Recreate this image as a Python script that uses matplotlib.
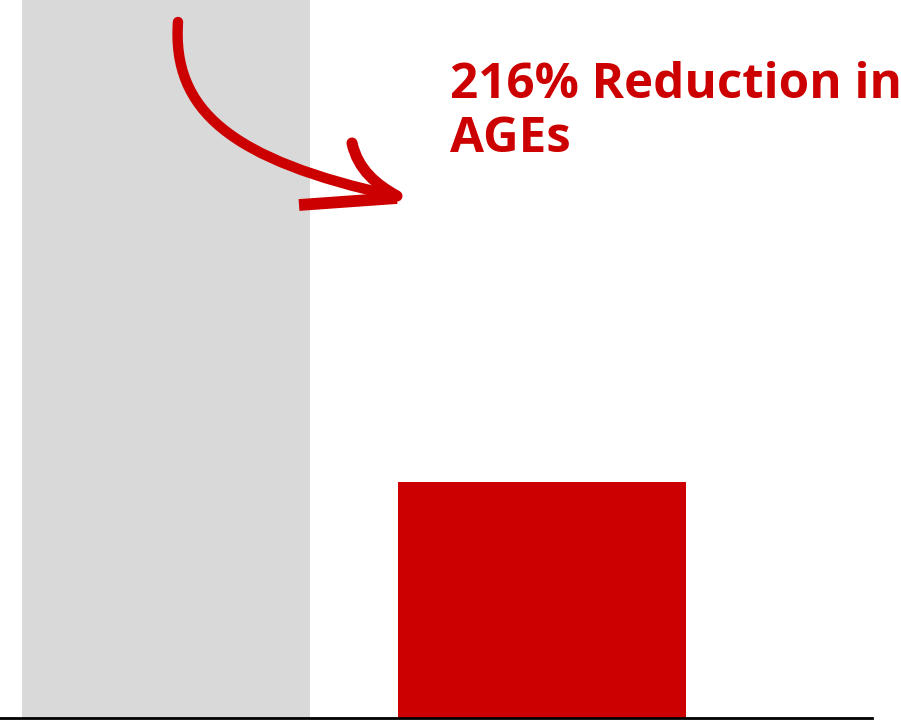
import matplotlib
matplotlib.use("Agg")
import matplotlib.pyplot as plt
from matplotlib.path import Path
from matplotlib.patches import PathPatch

categories = ["Before", "After"]
values = [3.16, 1.0]
bar_colors = ["#D9D9D9", "#CC0000"]
annotation_lines = ["216% Reduction in", "AGEs"]

W, H = 901, 720
fig = plt.figure(figsize=(W / 100, H / 100), dpi=100)
ax = fig.add_axes([0, 2 / H, 872 / W, 1 - 2 / H])
ax.bar(range(len(categories)), values, width=0.766, color=bar_colors)
ax.set_xlim(-0.441, 1.878)
ax.set_ylim(0, 3.04)
for s in ["top", "right", "left"]:
    ax.spines[s].set_visible(False)
ax.spines["bottom"].set_linewidth(2)
ax.spines["bottom"].set_color("black")
ax.set_xticks([])
ax.set_yticks([])

# overlay for annotation in pixel coords
ov = fig.add_axes([0, 0, 1, 1], facecolor="none")
ov.set_xlim(0, W)
ov.set_ylim(H, 0)
ov.axis("off")
red = "#CC0000"
shaft = Path([(178, 22), (172, 110), (230, 160), (395, 196)],
             [Path.MOVETO, Path.CURVE4, Path.CURVE4, Path.CURVE4])
ov.add_patch(PathPatch(shaft, fill=False, ec=red, lw=7.5, capstyle="round"))
head1 = Path([(352, 143), (358, 170), (377, 185), (397, 196)],
             [Path.MOVETO, Path.CURVE4, Path.CURVE4, Path.CURVE4])
ov.add_patch(PathPatch(head1, fill=False, ec=red, lw=8, capstyle="round"))
head2 = Path([(299, 205), (397, 198)], [Path.MOVETO, Path.LINETO])
ov.add_patch(PathPatch(head2, fill=False, ec=red, lw=8.5, capstyle="butt"))

for i, line in enumerate(annotation_lines):
    ov.text(450, 98 + 54 * i, line, color=red, fontsize=35.5, fontweight="bold",
            family=["Open Sans", "DejaVu Sans"], va="baseline", ha="left")
fig.savefig("out.png", dpi=100)
